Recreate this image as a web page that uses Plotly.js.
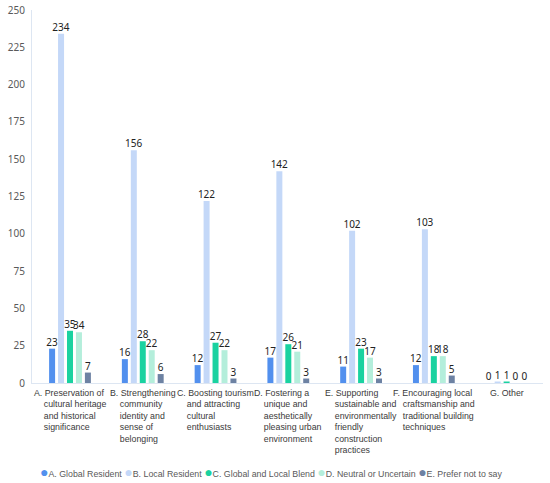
<!DOCTYPE html>
<html><head><meta charset="utf-8">
<script src="https://cdn.plot.ly/plotly-3.0.1.min.js"></script>
<style>html,body{margin:0;padding:0;background:#fff}#chart{width:550px;height:483px}</style>
</head><body><div id="chart"></div>
<script>
var categories = ["A","B","C","D","E","F","G"];
var categoryLabels = [
  ["A. Preservation of","cultural heritage","and historical","significance"],
  ["B. Strengthening","community","identity and","sense of","belonging"],
  ["C. Boosting tourism","and attracting","cultural","enthusiasts"],
  ["D. Fostering a","unique and","aesthetically","pleasing urban","environment"],
  ["E. Supporting","sustainable and","environmentally","friendly","construction","practices"],
  ["F. Encouraging local","craftsmanship and","traditional building","techniques"],
  ["G. Other"]
];
var seriesNames = ["A. Global Resident","B. Local Resident","C. Global and Local Blend","D. Neutral or Uncertain","E. Prefer not to say"];
var globalResident = [23,16,12,17,11,12,0];
var localResident = [234,156,122,142,102,103,1];
var globalLocalBlend = [35,28,27,26,23,18,1];
var neutralUncertain = [34,22,22,21,17,18,0];
var preferNotToSay = [7,6,3,3,3,5,0];
var seriesValues = [globalResident,localResident,globalLocalBlend,neutralUncertain,preferNotToSay];
var colors = ["#5290ee","#c4d8f8","#1ad2a0","#b4eedb","#6d82a3"];
var yTicks = [0,25,50,75,100,125,150,175,200,225,250];

var traces = seriesValues.map(function(v,i){
  return {type:"bar", x:categories, y:v, name:seriesNames[i],
    marker:{color:colors[i]}, text:v.map(String), textposition:"outside",
    constraintext:"none",
    textfont:{family:"Noto Sans, sans-serif", size:10, color:"#222"},
    cliponaxis:false, hoverinfo:"none", showlegend:false};
});

var nb = "\u00a0\u00a0\u00a0\u00a0";
var annotations = categories.map(function(c,i){
  var lines = categoryLabels[i].map(function(t,j){return j===0?t:nb+t;});
  return {xref:"x", yref:"paper", x:c, y:0, yanchor:"top", xanchor:"center", align:"left",
    yshift:-3, showarrow:false, text:lines.join("<br>"),
    font:{family:"Liberation Sans, sans-serif", size:8.8, color:"#3a3a3a"}};
});
var legendText = seriesNames.map(function(n,i){
  return '<span style="color:'+colors[i]+';font-size:14px">\u25CF</span>'+n;
}).join(" ");
annotations.push({xref:"paper", yref:"paper", x:0.468, y:0, yshift:-89, xanchor:"center", yanchor:"middle",
  showarrow:false, text:legendText, font:{family:"Liberation Sans, sans-serif", size:8.8, color:"#595959"}});

var layout = {
  width:550, height:483,
  margin:{l:32, r:7, t:10, b:100},
  paper_bgcolor:"#fff", plot_bgcolor:"#fff",
  barmode:"group", bargap:0.385, bargroupgap:0.33,
  showlegend:false,
  xaxis:{type:"category", showticklabels:false, showgrid:false, zeroline:false,
    showline:true, linecolor:"#dde6f2", linewidth:1, ticks:""},
  yaxis:{range:[0,250], tickvals:yTicks, showgrid:false, zeroline:false,
    showline:true, linecolor:"#dde6f2", linewidth:1, ticks:"", ticklabelstandoff:4,
    tickfont:{family:"Noto Sans, sans-serif", size:10, color:"#595959"}},
  annotations:annotations
};
Plotly.newPlot("chart", traces, layout, {displayModeBar:false, staticPlot:true});
</script></body></html>
